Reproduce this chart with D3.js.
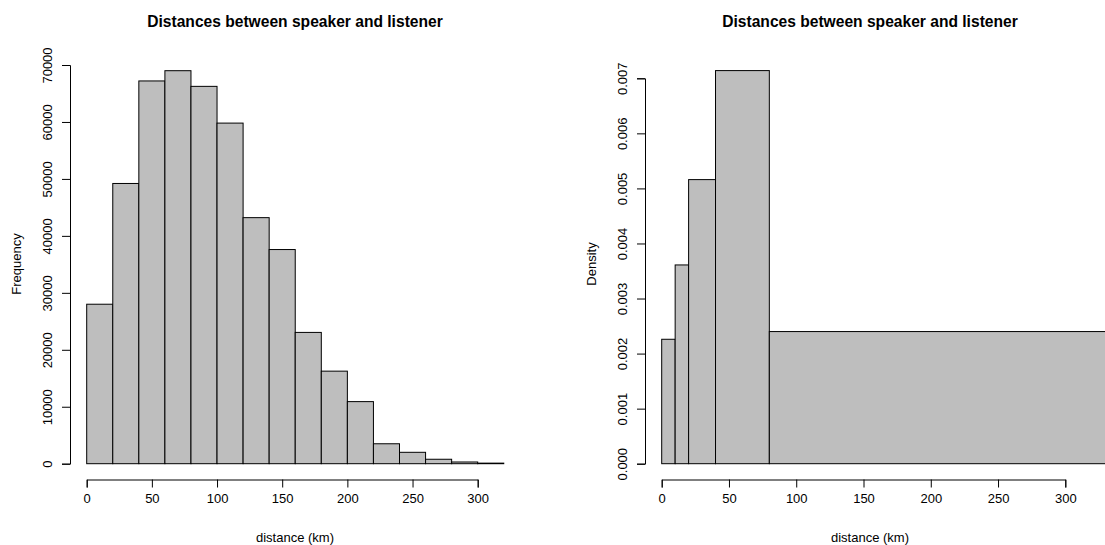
<!DOCTYPE html>
<html>
<head>
<meta charset="utf-8">
<script src="https://cdn.jsdelivr.net/npm/d3@7"></script>
<style>
  body { margin: 0; background: #fff; }
  svg { display: block; font-family: "Liberation Sans", Arial, sans-serif; }
</style>
</head>
<body>
<div id="container"></div>
<script>
// left histogram: counts per 20 km bin
let freqBreaks = [0, 20, 40, 60, 80, 100, 120, 140, 160, 180, 200, 220, 240, 260, 280, 300, 320];
let freqCounts = [28000, 49200, 67200, 69000, 66250, 59800, 43200, 37600, 23050, 16250, 10900, 3500, 2000, 780, 300, 100];

// right histogram: density with unequal bins
let densBreaks = [0, 10, 20, 40, 80, 340];
let densValues = [0.00226, 0.00361, 0.00516, 0.00714, 0.0024];

let xTicks = [0, 50, 100, 150, 200, 250, 300];
let freqTicks = [0, 10000, 20000, 30000, 40000, 50000, 60000, 70000];
let densTicks = [0, 0.001, 0.002, 0.003, 0.004, 0.005, 0.006, 0.007];

let titleText = "Distances between speaker and listener";
let xLabel = "distance (km)";

let w = 1105;
let h = 545;
let y0 = 463.7;
let tick = 8;

let viz = d3.select("#container")
  .append("svg")
    .attr("width", w)
    .attr("height", h)
;

function toBins(breaks, values){
  return values.map(function(v, i){
    return {x0: breaks[i], x1: breaks[i+1], v: v};
  });
}

function panel(opts){
  let g = viz.append("g").attr("class", "panel");

  let xScale = d3.scaleLinear().domain([0, 300]).range(opts.xRange);
  let yScale = d3.scaleLinear().domain(opts.yDomain).range([y0, opts.yTop]);

  // bars
  g.append("g").selectAll("rect")
    .data(toBins(opts.breaks, opts.values))
    .enter()
    .append("rect")
      .attr("x", function(d){ return xScale(d.x0) })
      .attr("width", function(d){ return xScale(d.x1) - xScale(d.x0) })
      .attr("y", function(d){ return yScale(d.v) })
      .attr("height", function(d){ return y0 - yScale(d.v) })
      .attr("fill", "#bebebe")
      .attr("stroke", "#000")
      .attr("stroke-width", 1)
  ;

  // x axis
  let xAxis = d3.axisBottom(xScale).tickValues(xTicks).tickSize(tick).tickSizeOuter(tick).tickPadding(6);
  let xg = g.append("g")
      .attr("transform", "translate(0," + opts.xAxisY + ")")
      .call(xAxis);
  xg.selectAll("text").attr("font-size", "13px").attr("fill", "#000").attr("font-family", "Liberation Sans, Arial, sans-serif");

  // y axis
  let yAxis = d3.axisLeft(yScale).tickValues(opts.yTicks).tickSize(tick).tickSizeOuter(tick).tickFormat(opts.fmt);
  let yg = g.append("g")
      .attr("transform", "translate(" + opts.yAxisX + ",0)")
      .call(yAxis);
  yg.selectAll(".tick text")
      .attr("transform", "rotate(-90)")
      .attr("x", 0)
      .attr("y", -23)
      .attr("dy", "0.35em")
      .attr("text-anchor", "middle")
      .attr("font-size", "13px")
      .attr("fill", "#000")
      .attr("font-family", "Liberation Sans, Arial, sans-serif");

  g.selectAll(".domain, .tick line").attr("stroke", "#000");

  // titles
  g.append("text")
      .text(titleText)
      .attr("x", opts.titleX)
      .attr("y", 22)
      .attr("dy", "0.35em")
      .attr("text-anchor", "middle")
      .attr("font-weight", "bold")
      .attr("font-size", "15.6px");

  g.append("text")
      .text(xLabel)
      .attr("x", opts.titleX)
      .attr("y", 537.7)
      .attr("dy", "0.35em")
      .attr("text-anchor", "middle")
      .attr("font-size", "13px");

  g.append("text")
      .text(opts.yLabel)
      .attr("transform", "translate(" + (opts.yAxisX - 54) + ",264) rotate(-90)")
      .attr("dy", "0.35em")
      .attr("text-anchor", "middle")
      .attr("font-size", "13px");
}

panel({
  xRange: [86.7, 477.7],
  yDomain: [0, 70000],
  yTop: 65,
  breaks: freqBreaks,
  values: freqCounts,
  yTicks: freqTicks,
  fmt: d3.format("d"),
  xAxisY: 479.5,
  yAxisX: 70,
  titleX: 295,
  yLabel: "Frequency"
});

panel({
  xRange: [661.7, 1065.3],
  yDomain: [0, 0.007],
  yTop: 78.3,
  breaks: densBreaks,
  values: densValues,
  yTicks: densTicks,
  fmt: d3.format(".3f"),
  xAxisY: 479.5,
  yAxisX: 645,
  titleX: 870,
  yLabel: "Density"
});
</script>
</body>
</html>
